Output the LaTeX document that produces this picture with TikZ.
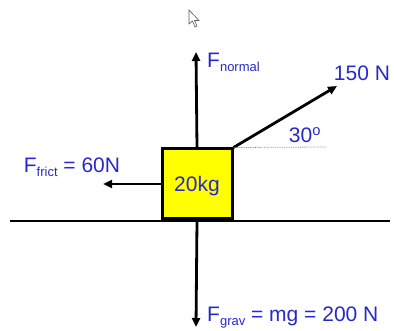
\documentclass[tikz,border=0pt]{standalone}
\usepackage{fontspec}
\setmainfont{Liberation Sans}
\usepackage{xcolor}
\usetikzlibrary{arrows.meta,positioning}
\definecolor{labelblue}{RGB}{40,40,205}
\definecolor{boxyellow}{RGB}{255,255,0}
\newcommand{\lowtext}[1]{\raisebox{-4pt}{\fontsize{13}{13}\selectfont #1}}

\begin{document}
\begin{tikzpicture}[x=1pt,y=-1pt,
	force/.style={line width=2.8pt,-{Triangle[length=9pt,width=8pt]}},
	lbl/.style={text=labelblue,font=\fontsize{21}{21}\selectfont,inner sep=0pt}]
		\useasboundingbox (0,0) rectangle (394,331);
		% 命名点
		\coordinate (GL) at (10,221);
		\coordinate (GR) at (390,221);
		\coordinate (NT) at (196,52);
		\coordinate (GT) at (196,327);
		\coordinate (FT) at (103,184);
		\coordinate (PT) at (337,86);
		\coordinate (HE) at (326,147);
		
		% 地面与木块
		\draw[line width=2.8pt] (GL) -- (GR);
		\node[draw,line width=3pt,fill=boxyellow,minimum size=70pt,inner sep=0pt] (box) at (197,184) {};
		\node[lbl] (mass) at (197,186) {20kg};
		
		% 各个力
		\draw[force] (box.north) -- (NT);
		\draw[force] (box.south) -- (GT);
		\draw[force] (box.west) -- (FT);
		\draw[force] (box.north east) -- (PT);
		\draw[densely dotted,line width=0.8pt,gray] (box.north east) -- (HE);
		
		% 标注
		\node[lbl,anchor=west] (normal) at (207,62) {F\lowtext{normal}};
		\node[lbl] (pull) at (362,73) {150 N};
		\node[lbl] (angle) at (305,135) {30\textsuperscript{o}};
		\node[lbl] (frict) at (72,167) {F\lowtext{frict} = 60N};
		\node[lbl,anchor=west] (grav) at (207,318) {F\lowtext{grav} = mg = 200 N};
		
		% 鼠标指针
		\draw[line width=0.6pt,gray!70!black,fill=white] (189,10) -- (189,24) -- (192.5,21) -- (195,27) -- (197,26) -- (194.5,20.5) -- (199,20.5) -- cycle;
	\end{tikzpicture}
\end{document}
